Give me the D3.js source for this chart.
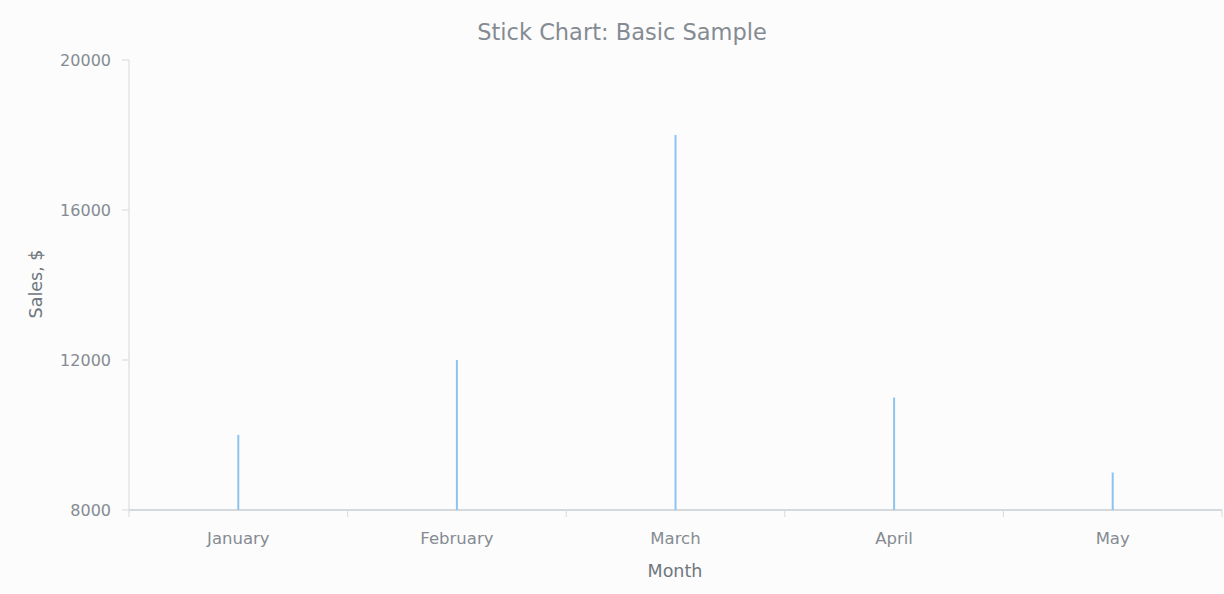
<!DOCTYPE html>
<html><head><meta charset="utf-8">
<script src="https://cdn.jsdelivr.net/npm/d3@7"></script>
<style>
html,body{margin:0;padding:0;background:#fcfcfc;}
svg{display:block;font-family:"DejaVu Sans","Noto Sans",sans-serif;}
</style></head>
<body>
<svg id="chart" width="1224" height="594"></svg>
<script>
const categories = ["January","February","March","April","May"];
const sales = [10000,12000,18000,11000,9000];
const yTicks = [8000,12000,16000,20000];
const titleText = "Stick Chart: Basic Sample";
const xTitle = "Month";
const yTitle = "Sales, $";

const svg = d3.select("#chart");
const W = 1224, H = 594;
const m = {left:129, right:2, top:60, bottom:84};
svg.append("rect").attr("width",W).attr("height",H).attr("fill","#fcfcfc");

const x = d3.scaleBand().domain(categories).range([m.left, W-m.right]);
const y = d3.scaleLinear().domain([8000,20000]).range([H-m.bottom, m.top]);

const axisColor = "#d5d9de";
const textColor = "#858b92";

// x axis
const gx = svg.append("g").attr("transform",`translate(0,${H-m.bottom})`);
gx.append("line").attr("x1",m.left).attr("x2",W-m.right).attr("stroke",axisColor).attr("stroke-width",2);
const bounds = categories.map(c=>x(c)).concat([x(categories[categories.length-1])+x.bandwidth()]);
gx.selectAll("line.tick").data(bounds).join("line").attr("class","tick")
  .attr("x1",d=>d).attr("x2",d=>d).attr("y1",0).attr("y2",7).attr("stroke",axisColor);
gx.selectAll("text").data(categories).join("text")
  .attr("x",d=>x(d)+x.bandwidth()/2).attr("y",34).attr("text-anchor","middle")
  .attr("font-size",16.5).attr("fill",textColor).text(d=>d);

// y axis
const gy = svg.append("g");
gy.append("line").attr("x1",m.left).attr("x2",m.left).attr("y1",m.top).attr("y2",H-m.bottom).attr("stroke",axisColor);
gy.selectAll("line.tick").data(yTicks).join("line").attr("class","tick")
  .attr("x1",m.left-7).attr("x2",m.left).attr("y1",d=>y(d)).attr("y2",d=>y(d)).attr("stroke",axisColor);
gy.selectAll("text").data(yTicks).join("text")
  .attr("x",m.left-18).attr("y",d=>y(d)).attr("dy","0.36em").attr("text-anchor","end")
  .attr("font-size",16).attr("fill",textColor).text(d=>d);

// sticks
svg.append("g").selectAll("line").data(categories).join("line")
  .attr("x1",(d)=>x(d)+x.bandwidth()/2).attr("x2",(d)=>x(d)+x.bandwidth()/2)
  .attr("y1",y(8000)).attr("y2",(d,i)=>y(sales[i]))
  .attr("stroke","#8ec3ef").attr("stroke-width",2);

// titles
svg.append("text").attr("x",622).attr("y",40).attr("text-anchor","middle")
  .attr("font-size",22.5).attr("fill",textColor).text(titleText);
svg.append("text").attr("x",675).attr("y",577).attr("text-anchor","middle")
  .attr("font-size",17.5).attr("fill","#6f777f").text(xTitle);
svg.append("text").attr("transform","translate(42,284) rotate(-90)").attr("text-anchor","middle")
  .attr("font-size",17.5).attr("fill","#6f777f").text(yTitle);
</script>
</body></html>
